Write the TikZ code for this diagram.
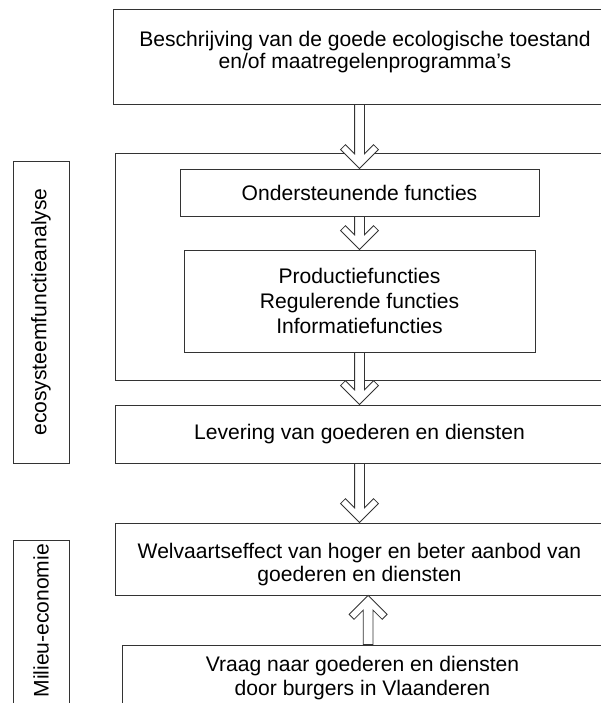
\documentclass[tikz,border=0pt]{standalone}
\usepackage{fontspec}
\setmainfont{Liberation Sans}
\usetikzlibrary{calc}

% open block arrow, #2 = start, #3 = tip, #1 = 1 (down) or -1 (up)
\newcommand{\hollowarrow}[3][1]{%
  \draw[arrowbody] let \p1=(#2), \p2=(#3) in
    (\x1-3.5pt,\y1) -- (\x1-3.5pt,{\y2+(#1)*10.5pt})
    -- (\x1-10pt,{\y2+(#1)*17pt}) -- (\x1-13.5pt,{\y2+(#1)*13.5pt})
    -- (\x1,\y2)
    -- (\x1+13.5pt,{\y2+(#1)*13.5pt}) -- (\x1+10pt,{\y2+(#1)*17pt})
    -- (\x1+3.5pt,{\y2+(#1)*10.5pt}) -- (\x1+3.5pt,\y1) -- cycle;}

\begin{document}
\begin{tikzpicture}[font=\fontsize{15}{16}\selectfont,
    box/.style={draw=black!80, line width=0.6pt, fill=white, align=center, inner sep=0pt},
    boxtext/.style={align=center, inner sep=0pt},
    sidebox/.style={box, rotate=90, minimum height=1.4cm},
    arrowbody/.style={draw=black!80, line width=0.6pt, fill=white, line join=miter}]

            \useasboundingbox (0,0) rectangle (15,-17.575);

            % main chain
            \node[box, minimum width=12.6cm, minimum height=2.375cm] (goal) at (9.125,-1.4125) {};
            \node[boxtext] (goaltext) at ([yshift=3pt]goal.center)
                {Beschrijving van de goede ecologische toestand\\en/of maatregelenprogramma’s};

            \node[box, minimum width=12.225cm, minimum height=5.675cm] (eco) at (8.9875,-6.6625) {};

            \node[box, minimum width=8.975cm, minimum height=1.175cm] (onder) at (8.9875,-4.8125)
                {Ondersteunende functies};

            \node[box, minimum width=8.775cm, minimum height=2.55cm,
                font=\fontsize{15}{18}\selectfont] (prod) at (8.9875,-7.525)
                {Productiefuncties\\Regulerende functies\\Informatiefuncties};

            \node[box, minimum width=12.225cm, minimum height=1.45cm] (lev) at (8.9875,-10.85)
                {Levering van goederen en diensten};

            \node[box, minimum width=12.225cm, minimum height=1.8cm] (welv) at (8.9875,-13.975) {};
            \node[boxtext] (welvtext) at ([yshift=-4pt]welv.center)
                {Welvaartseffect van hoger en beter aanbod van\\goederen en diensten};

            \node[box, minimum width=12.025cm, minimum height=1.65cm,
                font=\fontsize{15}{17}\selectfont] (vraag) at (9.0625,-16.95)
                {Vraag naar goederen en diensten\\door burgers in Vlaanderen};

            % side labels
            \node[sidebox, minimum width=7.55cm] (ecolabel) at (1.025,-7.8) {ecosysteemfunctieanalyse};
            \node[sidebox, minimum width=4.7cm, inner xsep=0.1cm, text width=4.5cm, align=right]
                (mlabel) at (1.025,-15.85) {Milieu-economie};

            % arrows
            \hollowarrow{onder.north |- goal.south}{onder.north}
            \hollowarrow{onder.south}{prod.north}
            \hollowarrow{prod.south}{lev.north}
            \hollowarrow{lev.south}{welv.north}
            \hollowarrow[-1]{[xshift=4pt]vraag.north}{welv.south}

        \end{tikzpicture}
\end{document}
